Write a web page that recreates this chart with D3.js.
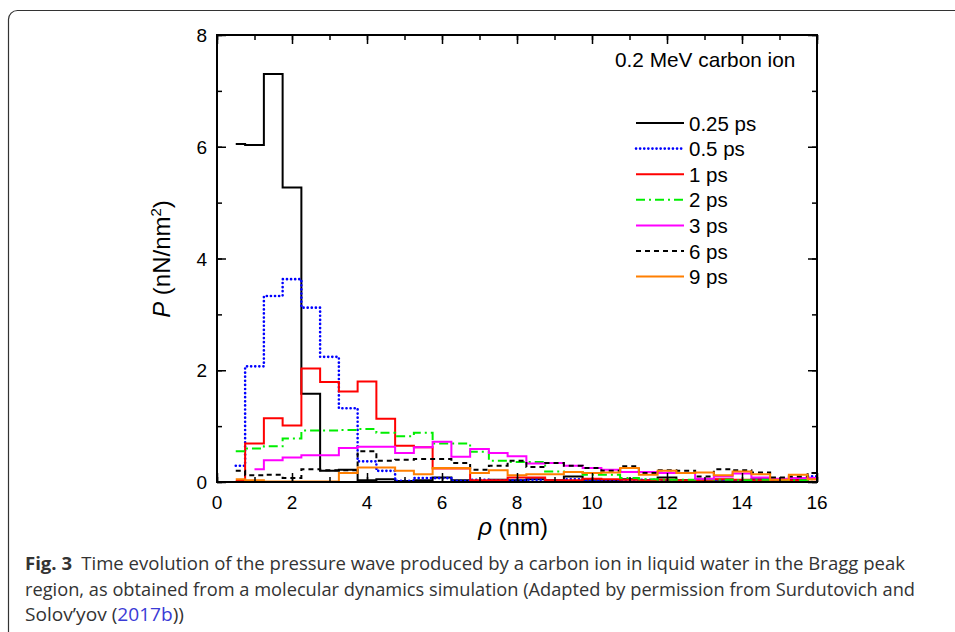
<!DOCTYPE html>
<html>
<head>
<meta charset="utf-8">
<script src="https://cdn.jsdelivr.net/npm/d3@7/dist/d3.min.js"></script>
<style>
  body { margin: 0; background: #fff; }
  svg { display: block; }
</style>
</head>
<body>
<div id="viz"></div>
<script>
  // radial distance (nm), one value per bin
  var rho = [0.5, 1, 1.5, 2, 2.5, 3, 3.5, 4, 4.5, 5, 5.5, 6, 6.5, 7, 7.5, 8,
             8.5, 9, 9.5, 10, 10.5, 11, 11.5, 12, 12.5, 13, 13.5, 14, 14.5, 15, 15.5, 16];

  var p025 = [6.05, 6.03, 7.3, 5.27, 1.58, 0.2, 0.22, 0.03, 0.05, 0.02, 0.03, 0.08, 0.03, 0.02, 0.04, 0.03,
              0.05, 0.03, 0.1, 0.04, 0.03, 0.05, 0.03, 0.08, 0.03, 0.05, 0.04, 0.03, 0.05, 0.03, 0.04, 0.06];
  var p05 = [0.29, 2.07, 3.33, 3.63, 3.12, 2.24, 1.32, 0.37, 0.2, 0.02, 0.07, 0.07, 0.02, 0.04, 0.03, 0.03,
             0.04, 0.02, 0.05, 0.03, 0.02, 0.03, 0.04, 0.03, 0.02, 0.05, 0.03, 0.02, 0.03, 0.02, 0.03, 0.1];
  var p1 = [0.02, 0.69, 1.14, 1.01, 2.03, 1.79, 1.62, 1.8, 1.13, 0.65, 0.62, 0.24, 0.24, 0.03, 0.03, 0.08,
            0.08, 0.03, 0.03, 0.06, 0.05, 0.04, 0.03, 0.04, 0.03, 0.03, 0.05, 0.04, 0.03, 0.04, 0.03, 0.05];
  var p2 = [0.55, 0.6, 0.64, 0.78, 0.92, 0.92, 0.93, 0.95, 0.88, 0.82, 0.88, 0.69, 0.69, 0.54, 0.38, 0.36,
            0.36, 0.19, 0.18, 0.13, 0.13, 0.07, 0.05, 0.04, 0.04, 0.05, 0.04, 0.03, 0.04, 0.04, 0.03, 0.05];
  var p3 = [null, 0.23, 0.39, 0.44, 0.48, 0.48, 0.61, 0.63, 0.63, 0.52, 0.62, 0.72, 0.45, 0.59, 0.52, 0.46,
            0.33, 0.34, 0.29, 0.25, 0.22, 0.18, 0.18, 0.16, 0.16, 0.06, 0.1, 0.15, 0.08, 0.06, 0.07, 0.07];
  var p6 = [0.2, 0.12, 0.13, 0.07, 0.23, 0.21, 0.21, 0.55, 0.38, 0.4, 0.41, 0.41, 0.34, 0.22, 0.29, 0.38,
            0.27, 0.34, 0.29, 0.25, 0.2, 0.28, 0.16, 0.21, 0.2, 0.1, 0.23, 0.21, 0.17, 0.08, 0.1, 0.16];
  var p9 = [0.05, 0.03, 0.01, 0.01, 0.01, 0.01, 0.16, 0.26, 0.26, 0.2, 0.14, 0.25, 0.25, 0.16, 0.21, 0.12,
            0.14, 0.14, 0.18, 0.16, 0.17, 0.25, 0.13, 0.2, 0.16, 0.17, 0.12, 0.19, 0.14, 0.04, 0.13, 0.05];

  var seriesNames = ['0.25 ps', '0.5 ps', '1 ps', '2 ps', '3 ps', '6 ps', '9 ps'];
  var seriesValues = [p025, p05, p1, p2, p3, p6, p9];
  var seriesColors = ['#000000', '#0000ff', '#ff0000', '#00ee00', '#ff00ff', '#000000', '#ff7f00'];
  var seriesDash = [null, '0.1 4', null, '9 4 2 4', null, '5 4', null];

  var xTicks = [0, 2, 4, 6, 8, 10, 12, 14, 16];
  var yTicks = [0, 2, 4, 6, 8];

  var width = 955, height = 632;
  var margin = {left: 217, top: 35, right: 138, bottom: 150};

  var svg = d3.select('#viz')
    .append('svg')
    .attr('width', width)
    .attr('height', height);

  // figure frame (runs off the right and bottom edges)
  svg.append('rect')
    .attr('x', 8.5).attr('y', 10.5)
    .attr('width', 990).attr('height', 680)
    .attr('rx', 9)
    .style('fill', 'none')
    .style('stroke', '#333')
    .style('stroke-width', 1.2);

  var x = d3.scaleLinear().domain([0, 16]).range([margin.left, width - margin.right]);
  var y = d3.scaleLinear().domain([0, 8]).range([height - margin.bottom, margin.top]);

  var line = d3.line()
    .defined(function (d) { return d[1] != null; })
    .x(function (d) { return x(d[0]); })
    .y(function (d) { return y(d[1]); })
    .curve(d3.curveStep);

  function strokeIt(sel, i) {
    var dotted = seriesDash[i] === '0.1 4';
    sel.style('fill', 'none')
      .style('stroke', seriesColors[i])
      .style('stroke-width', dotted ? 2.6 : 2)
      .style('stroke-linecap', dotted ? 'round' : 'butt')
      .style('stroke-dasharray', seriesDash[i]);
  }

  var plot = svg.append('g');
  seriesValues.forEach(function (vals, i) {
    var pts = rho.map(function (r, j) { return [r, vals[j]]; });
    plot.append('path')
      .datum(pts)
      .attr('d', line)
      .call(strokeIt, i);
  });

  // axes with inward ticks on all four sides
  var minorX = d3.range(0, 17, 1), minorY = d3.range(0, 9, 1);
  function tickStyle(g) {
    g.select('.domain').remove();
    g.selectAll('line').style('stroke', '#000').style('stroke-width', 1.5);
    g.selectAll('text').remove();
  }
  function ticks(axis, tr, vals, size) {
    svg.append('g').attr('transform', tr)
      .call(axis.tickValues(vals).tickSize(size)).call(tickStyle);
  }
  [[minorX, minorY, -5], [xTicks, yTicks, -9]].forEach(function (t) {
    ticks(d3.axisBottom(x), 'translate(0,' + y(0) + ')', t[0], t[2]);
    ticks(d3.axisTop(x), 'translate(0,' + y(8) + ')', t[0], t[2]);
    ticks(d3.axisLeft(y), 'translate(' + x(0) + ',0)', t[1], t[2]);
    ticks(d3.axisRight(y), 'translate(' + x(16) + ',0)', t[1], t[2]);
  });

  svg.append('rect')
    .attr('x', x(0)).attr('y', y(8))
    .attr('width', x(16) - x(0)).attr('height', y(0) - y(8))
    .style('fill', 'none').style('stroke', '#000').style('stroke-width', 2);

  var font = 'Liberation Sans, Arial, sans-serif';

  svg.append('g').selectAll('text')
    .data(xTicks).enter().append('text')
    .attr('x', function (d) { return x(d); })
    .attr('y', y(0) + 27)
    .attr('text-anchor', 'middle')
    .style('font-family', font).style('font-size', '19px')
    .text(function (d) { return d; });

  svg.append('g').selectAll('text')
    .data(yTicks).enter().append('text')
    .attr('x', x(0) - 10)
    .attr('y', function (d) { return y(d) + 7; })
    .attr('text-anchor', 'end')
    .style('font-family', font).style('font-size', '19px')
    .text(function (d) { return d; });

  // axis titles
  var xt = svg.append('text')
    .attr('x', 513).attr('y', 535)
    .attr('text-anchor', 'middle')
    .style('font-family', font).style('font-size', '24px');
  xt.append('tspan').style('font-style', 'italic').text('ρ');
  xt.append('tspan').text(' (nm)');

  var yt = svg.append('text')
    .attr('transform', 'translate(170,259) rotate(-90)')
    .attr('text-anchor', 'middle')
    .style('font-family', font).style('font-size', '24px');
  yt.append('tspan').style('font-style', 'italic').text('P');
  yt.append('tspan').text(' (nN/nm');
  yt.append('tspan').attr('dy', -9).style('font-size', '15px').text('2');
  yt.append('tspan').attr('dy', 9).text(')');

  svg.append('text')
    .attr('x', 615).attr('y', 67)
    .style('font-family', font).style('font-size', '20.8px')
    .text('0.2 MeV carbon ion');

  // legend
  var legend = svg.append('g');
  seriesNames.forEach(function (name, i) {
    var ly = 123 + i * 25.6;
    legend.append('line')
      .attr('x1', 636).attr('x2', 684)
      .attr('y1', ly).attr('y2', ly)
      .call(strokeIt, i);
    legend.append('text')
      .attr('x', 689).attr('y', ly + 7.5)
      .style('font-family', font).style('font-size', '20.5px')
      .text(name);
  });

  // caption
  var capFont = 'Open Sans, Noto Sans, sans-serif';
  function capLine(yy, len) {
    return svg.append('text')
      .attr('x', 25).attr('y', yy)
      .attr('textLength', len).attr('lengthAdjust', 'spacingAndGlyphs')
      .style('font-family', capFont).style('font-size', '18px').style('fill', '#333');
  }
  var cap1 = capLine(570, 880);
  cap1.append('tspan').style('font-weight', 'bold').text('Fig. 3');
  cap1.append('tspan').text('\u2002Time evolution of the pressure wave produced by a carbon ion in liquid water in the Bragg peak');

  capLine(596, 890)
    .text('region, as obtained from a molecular dynamics simulation (Adapted by permission from Surdutovich and');

  var cap3 = capLine(621, 159);
  cap3.append('tspan').text('Solov\u2019yov (');
  cap3.append('tspan').style('fill', '#3b3bd6').text('2017b');
  cap3.append('tspan').text('))');
</script>
</body>
</html>
